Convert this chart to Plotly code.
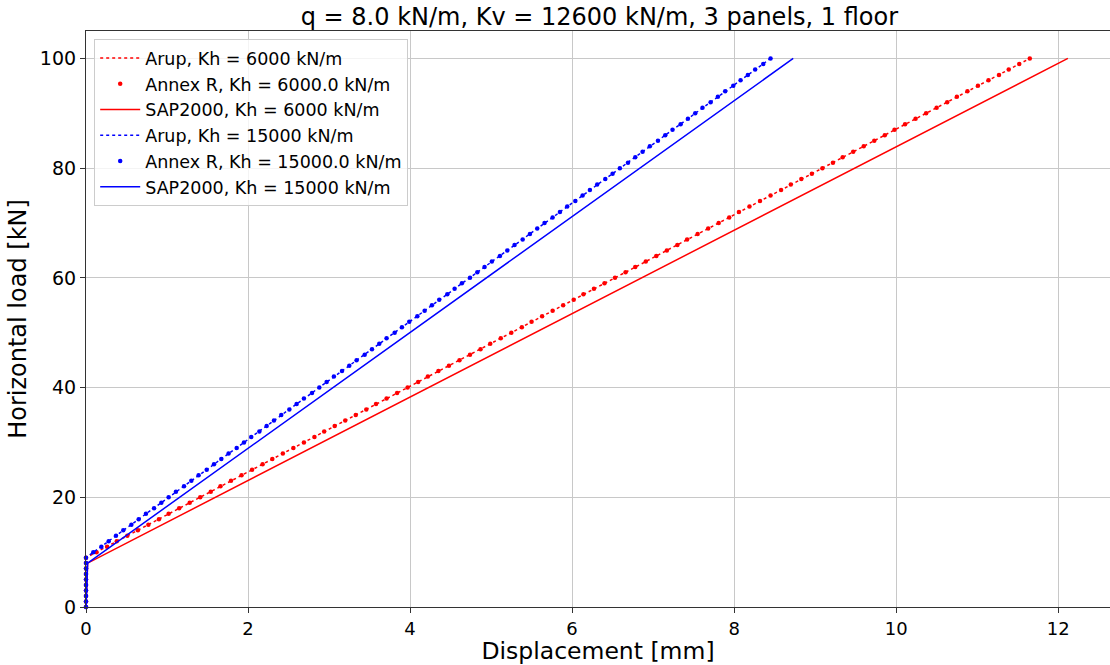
import plotly.graph_objects as go

# Horizontal load steps [kN]
load_steps = list(range(0, 101))

# Annex R displacement [mm] at each load step, Kh = 6000 kN/m
annex_disp_6000 = [0.0] * 10 + [
    0.13, 0.26, 0.38, 0.51, 0.64, 0.77, 0.90, 1.02, 1.15, 1.28,
    1.41, 1.54, 1.66, 1.79, 1.92, 2.05, 2.18, 2.30, 2.43, 2.56,
    2.69, 2.82, 2.94, 3.07, 3.20, 3.33, 3.46, 3.58, 3.71, 3.84,
    3.97, 4.10, 4.22, 4.35, 4.48, 4.61, 4.74, 4.87, 4.99, 5.12,
    5.25, 5.38, 5.50, 5.63, 5.76, 5.89, 6.02, 6.14, 6.27, 6.40,
    6.53, 6.66, 6.78, 6.91, 7.04, 7.17, 7.30, 7.42, 7.55, 7.68,
    7.81, 7.94, 8.06, 8.19, 8.32, 8.45, 8.58, 8.70, 8.83, 8.96,
    9.09, 9.22, 9.34, 9.47, 9.60, 9.73, 9.86, 9.98, 10.11, 10.24,
    10.37, 10.50, 10.63, 10.75, 10.88, 11.01, 11.14, 11.27, 11.39, 11.52,
    11.65,
]

# Annex R displacement [mm] at each load step, Kh = 15000 kN/m
annex_disp_15000 = [0.0] * 10 + [
    0.09, 0.19, 0.28, 0.37, 0.46, 0.56, 0.65, 0.74, 0.84, 0.93,
    1.02, 1.11, 1.21, 1.30, 1.39, 1.49, 1.58, 1.67, 1.76, 1.86,
    1.95, 2.04, 2.14, 2.23, 2.32, 2.41, 2.51, 2.60, 2.69, 2.79,
    2.88, 2.97, 3.06, 3.16, 3.25, 3.34, 3.44, 3.53, 3.62, 3.71,
    3.81, 3.90, 3.99, 4.09, 4.18, 4.27, 4.36, 4.46, 4.55, 4.64,
    4.74, 4.83, 4.92, 5.01, 5.11, 5.20, 5.29, 5.39, 5.48, 5.57,
    5.66, 5.76, 5.85, 5.94, 6.04, 6.13, 6.22, 6.31, 6.41, 6.50,
    6.59, 6.69, 6.78, 6.87, 6.96, 7.06, 7.15, 7.24, 7.34, 7.43,
    7.52, 7.61, 7.71, 7.80, 7.89, 7.99, 8.08, 8.17, 8.26, 8.36,
    8.45,
]

# Arup curves [load kN, displacement mm]
arup_load = [0, 9, 100]
arup_disp_6000 = [0.0, 0.0, 11.65]
arup_disp_15000 = [0.0, 0.0, 8.45]

# SAP2000 curves [load kN, displacement mm]
sap_load = [0, 8, 100]
sap_disp_6000 = [0.0, 0.02, 12.12]
sap_disp_15000 = [0.0, 0.02, 8.73]

RED = "#ff0000"
BLUE = "#0000ff"
FONT = "DejaVu Sans"

fig = go.Figure()

series = [
    ("Arup, Kh = 6000 kN/m", arup_disp_6000, arup_load, RED, "arup"),
    ("Annex R, Kh = 6000.0 kN/m", annex_disp_6000, load_steps, RED, "annex"),
    ("SAP2000, Kh = 6000 kN/m", sap_disp_6000, sap_load, RED, "sap"),
    ("Arup, Kh = 15000 kN/m", arup_disp_15000, arup_load, BLUE, "arup"),
    ("Annex R, Kh = 15000.0 kN/m", annex_disp_15000, load_steps, BLUE, "annex"),
    ("SAP2000, Kh = 15000 kN/m", sap_disp_15000, sap_load, BLUE, "sap"),
]

for name, xs, ys, color, kind in series:
    if kind == "annex":
        fig.add_trace(go.Scatter(
            x=xs, y=ys, name=name, mode="markers",
            marker=dict(color=color, size=4.5, line=dict(width=0)),
            cliponaxis=False,
        ))
    elif kind == "arup":
        fig.add_trace(go.Scatter(
            x=xs, y=ys, name=name, mode="lines",
            line=dict(color=color, width=1.5, dash="dot"),
        ))
    else:
        fig.add_trace(go.Scatter(
            x=xs, y=ys, name=name, mode="lines",
            line=dict(color=color, width=1.5),
        ))

axis_common = dict(
    showgrid=True,
    gridcolor="#c8c8c8",
    gridwidth=1,
    zeroline=False,
    showline=True,
    linecolor="#333333",
    linewidth=1.2,
    ticks="outside",
    ticklen=5,
    tickwidth=1,
    tickcolor="#333333",
)

fig.update_layout(
    width=1110,
    height=665,
    margin=dict(l=86, r=0, t=31, b=58),
    paper_bgcolor="white",
    plot_bgcolor="white",
    font=dict(family=FONT, color="#000000"),
    title=dict(
        text="q = 8.0 kN/m, Kv = 12600 kN/m, 3 panels, 1 floor",
        x=0.54, xanchor="center",
        y=0.975, yanchor="middle",
        font=dict(family=FONT, size=24, color="#000000"),
    ),
    xaxis=dict(
        range=[0, 12.64],
        tickvals=[0, 2, 4, 6, 8, 10, 12],
        mirror=True,
        tickfont=dict(family=FONT, size=18, color="#000000"),
        title=dict(text="Displacement [mm]", font=dict(family=FONT, size=23.5), standoff=6),
        **axis_common,
    ),
    yaxis=dict(
        range=[0, 105],
        tickvals=[0, 20, 40, 60, 80, 100],
        tickfont=dict(family=FONT, size=19, color="#000000"),
        title=dict(text="Horizontal load [kN]", font=dict(family=FONT, size=24), standoff=6),
        **axis_common,
    ),
    legend=dict(
        x=0.008, y=0.986, xanchor="left", yanchor="top",
        bgcolor="rgba(255,255,255,0.8)",
        bordercolor="#cccccc",
        borderwidth=1,
        font=dict(family=FONT, size=17.5, color="#000000"),
        itemwidth=40,
        tracegroupgap=0,
    ),
    showlegend=True,
)

fig.write_html("out.html")
